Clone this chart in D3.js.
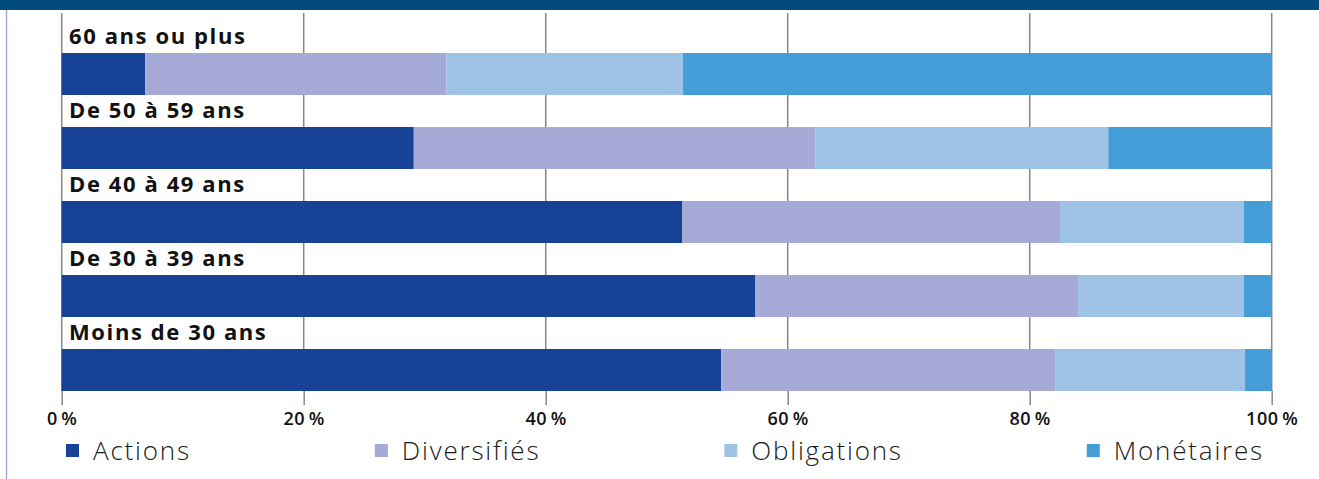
<!DOCTYPE html>
<html>
<head>
<meta charset="utf-8">
<script src="https://cdn.jsdelivr.net/npm/d3@7"></script>
<style>
    body { margin: 0; background: #fff; }
    svg { display: block; }
    .cat-label { font-family: "Open Sans", sans-serif; font-weight: 700; font-size: 22px; letter-spacing: 1.6px; fill: #111; }
    .tick text { font-family: "Open Sans", sans-serif; font-weight: 600; font-size: 18px; letter-spacing: 0.6px; fill: #111; }
    .legend-label { font-family: "Open Sans", sans-serif; font-weight: 300; font-size: 26px; letter-spacing: 1.8px; fill: #1a1a1a; }
</style>
</head>
<body>
<div class="chart"></div>
<script>
// Age groups, top to bottom
const categories = ["60 ans ou plus", "De 50 à 59 ans", "De 40 à 49 ans", "De 30 à 39 ans", "Moins de 30 ans"];

// Share of each fund type (%) per age group
const series = ["Actions", "Diversifiés", "Obligations", "Monétaires"];
const actions     = [6.9, 29.1, 51.3, 57.3, 54.5];
const diversifies = [24.9, 33.2, 31.2, 26.7, 27.6];
const obligations = [19.55, 24.2, 15.2, 13.7, 15.7];
const monetaires  = [48.65, 13.5, 2.3, 2.3, 2.2];

const tickValues = [0, 20, 40, 60, 80, 100];
const colors = ["#184296", "#a6aad6", "#9ec3e7", "#449dd6"];

const width = 1319;
const height = 479;

const svg = d3.select(".chart")
    .append("svg")
    .attr("width", width)
    .attr("height", height);

// Header band (title cut off above)
svg.append("rect")
    .attr("x", 0).attr("y", 0)
    .attr("width", width).attr("height", 10)
    .attr("fill", "#004b79");

// Left frame line
svg.append("line")
    .attr("x1", 6.5).attr("x2", 6.5)
    .attr("y1", 10).attr("y2", height)
    .attr("stroke", "#9aa3cf")
    .attr("stroke-width", 1.3);

// Build rows for stacking
const rows = categories.map((c, i) => ({
    cat: c,
    "Actions": actions[i],
    "Diversifiés": diversifies[i],
    "Obligations": obligations[i],
    "Monétaires": monetaires[i]
}));

const stack = d3.stack().keys(series);
const stacked = stack(rows);

const x = d3.scaleLinear()
    .domain([0, 100])
    .range([61.7, 1271.7]);

const y = d3.scaleBand()
    .domain(categories)
    .range([53, 391])
    .paddingInner(32 / 74);

const color = d3.scaleOrdinal().domain(series).range(colors);

// Gridlines
svg.append("g")
    .selectAll("line")
    .data(tickValues)
    .enter()
    .append("line")
    .attr("x1", d => x(d)).attr("x2", d => x(d))
    .attr("y1", 13).attr("y2", 391)
    .attr("stroke", "#878787")
    .attr("stroke-width", 1.5);

// Bars
svg.append("g")
    .selectAll("g")
    .data(stacked)
    .enter()
    .append("g")
    .attr("fill", d => color(d.key))
    .selectAll("rect")
    .data(d => d)
    .enter()
    .append("rect")
    .attr("x", d => x(d[0]))
    .attr("width", d => x(d[1]) - x(d[0]))
    .attr("y", d => y(d.data.cat))
    .attr("height", y.bandwidth());

// Category labels above each bar
svg.append("g")
    .selectAll("text")
    .data(categories)
    .enter()
    .append("text")
    .attr("class", "cat-label")
    .attr("x", 69)
    .attr("y", d => y(d) - 17)
    .attr("dy", "0.35em")
    .text(d => d);

// Bottom axis
const axis = d3.axisBottom(x)
    .tickValues(tickValues)
    .tickSize(14)
    .tickPadding(7)
    .tickFormat(d => d + "\u2009%");

const axisG = svg.append("g")
    .attr("transform", "translate(0,391)")
    .call(axis);
axisG.select(".domain").remove();
axisG.selectAll(".tick line")
    .attr("stroke", "#878787")
    .attr("stroke-width", 1.5);

// Legend
const legend = svg.append("g").attr("transform", "translate(66,444)");
let lx = 0;
series.forEach((s, i) => {
    const item = legend.append("g").attr("transform", `translate(${lx},0)`);
    item.append("rect")
        .attr("width", 13).attr("height", 13)
        .attr("fill", colors[i]);
    const t = item.append("text")
        .attr("class", "legend-label")
        .attr("x", 27)
        .attr("y", 7)
        .attr("dy", "0.35em")
        .text(s);
    lx += 27 + t.node().getComputedTextLength() + 184;
});
</script>
</body>
</html>
